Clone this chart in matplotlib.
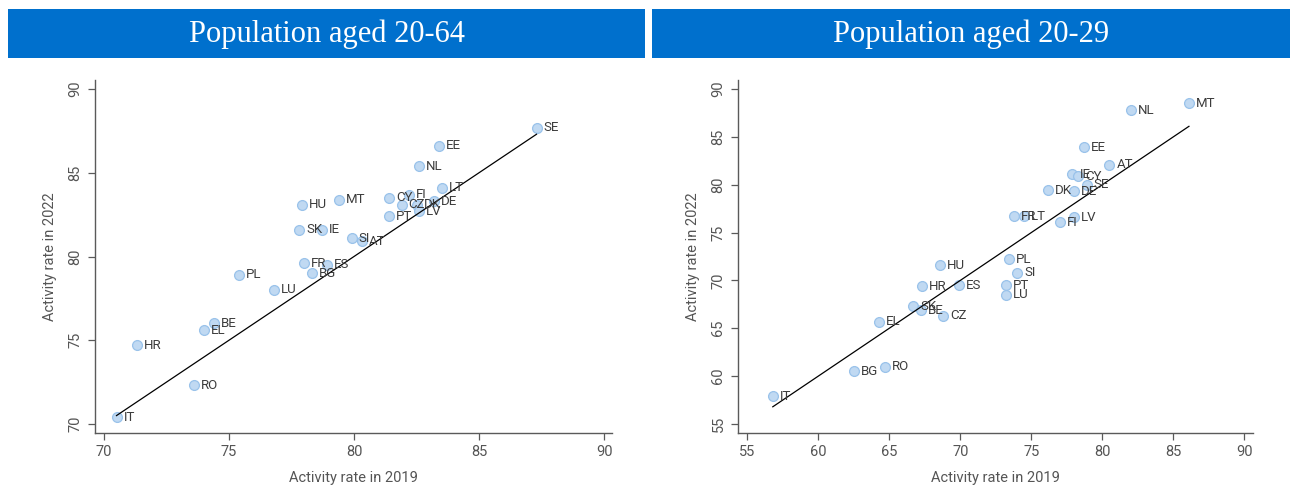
import matplotlib
matplotlib.use('Agg')
import matplotlib.pyplot as plt
from matplotlib.patches import Rectangle
import numpy as np

# activity rates, population aged 20-64
countries_2064 = ['IT', 'HR', 'RO', 'EL', 'BE', 'PL', 'LU', 'FR', 'BG', 'ES', 'HU', 'SK', 'IE', 'MT',
                  'SI', 'AT', 'CY', 'PT', 'FI', 'DK', 'CZ', 'LV', 'DE', 'LT', 'NL', 'EE', 'SE']
rate2019_2064 = [70.5, 71.3, 73.6, 74.0, 74.4, 75.4, 76.8, 78.0, 78.3, 78.9, 77.9, 77.8, 78.7, 79.4,
                 79.9, 80.3, 81.4, 81.4, 82.2, 82.5, 81.9, 82.6, 83.2, 83.5, 82.6, 83.4, 87.3]
rate2022_2064 = [70.4, 74.7, 72.3, 75.6, 76.0, 78.9, 78.0, 79.6, 79.0, 79.5, 83.1, 81.6, 81.6, 83.4,
                 81.1, 80.9, 83.5, 82.4, 83.7, 83.1, 83.1, 82.7, 83.3, 84.1, 85.4, 86.6, 87.7]

# activity rates, population aged 20-29
countries_2029 = ['IT', 'BG', 'RO', 'EL', 'SK', 'BE', 'CZ', 'HR', 'HU', 'ES', 'PL', 'SI', 'PT', 'LU',
                  'FR', 'LT', 'FI', 'LV', 'DK', 'DE', 'IE', 'CY', 'SE', 'AT', 'EE', 'NL', 'MT']
rate2019_2029 = [56.8, 62.5, 64.7, 64.3, 66.7, 67.2, 68.8, 67.3, 68.6, 69.9, 73.4, 74.0, 73.2, 73.2,
                 73.8, 74.5, 77.0, 78.0, 76.2, 78.0, 77.9, 78.3, 78.9, 80.5, 78.7, 82.0, 86.1]
rate2022_2029 = [57.9, 60.5, 61.0, 65.7, 67.3, 66.9, 66.3, 69.4, 71.6, 69.5, 72.2, 70.8, 69.5, 68.5,
                 76.7, 76.7, 76.1, 76.6, 79.4, 79.3, 81.1, 80.9, 80.0, 82.1, 83.9, 87.8, 88.5]

titles = ['Population aged 20-64', 'Population aged 20-29']
xticks = [[70, 75, 80, 85, 90], [55, 60, 65, 70, 75, 80, 85, 90]]
yticks = [[70, 75, 80, 85, 90], [55, 60, 65, 70, 75, 80, 85, 90]]

BLUE = '#0070cd'
AXIS_GREY = '#5a5a5a'
TEXT_GREY = '#555555'
LABEL_COLOR = '#3c3c3c'
DOT_FACE = '#c0d9f2'
DOT_EDGE = '#99c2ea'
TICK_FONT = ['Liberation Sans Narrow', 'Roboto', 'DejaVu Sans']


def draw_panel(ax, names, x, y, xt, yt, xlim, ylim):
    x = np.asarray(x)
    y = np.asarray(y)
    ax.scatter(x, y, s=50, facecolor=DOT_FACE, edgecolor=DOT_EDGE, linewidth=0.9, zorder=2)
    # 45-degree line (no change between 2019 and 2022) over the observed range
    xs = np.array([x.min(), x.max()])
    ax.plot(xs, xs, color='black', linewidth=0.9, zorder=3)
    for n, xi, yi in zip(names, x, y):
        ax.annotate(n, (xi, yi), xytext=(5, 0), textcoords='offset points', va='center', ha='left',
                    fontsize=9.5, color=LABEL_COLOR, family='Roboto', zorder=4)

    ax.set_xlim(*xlim)
    ax.set_ylim(*ylim)
    ax.set_xticks(xt)
    ax.set_yticks(yt)
    ax.set_xticklabels([str(v) for v in xt], family=TICK_FONT, fontsize=10.5, color=TEXT_GREY)
    ax.set_yticklabels([str(v) for v in yt], family=TICK_FONT, fontsize=10.5, color=TEXT_GREY,
                       rotation=90, va='center')
    ax.tick_params(direction='out', length=5, width=0.9, color=AXIS_GREY, pad=4)
    for side in ['top', 'right']:
        ax.spines[side].set_visible(False)
    for side in ['left', 'bottom']:
        ax.spines[side].set_color(AXIS_GREY)
        ax.spines[side].set_linewidth(1.0)
    ax.set_xlabel('Activity rate in 2019', family=TICK_FONT, fontsize=10.5, color=TEXT_GREY, labelpad=8)
    ax.set_ylabel('Activity rate in 2022', family=TICK_FONT, fontsize=10.5, color=TEXT_GREY, labelpad=8)
    ax.set_facecolor('white')


fig = plt.figure(figsize=(12.9, 4.87), dpi=100)
fig.patch.set_facecolor('white')

ax_l = fig.add_axes([95 / 1290, 54 / 487, 517 / 1290, 353 / 487])
ax_r = fig.add_axes([738 / 1290, 54 / 487, 515 / 1290, 353 / 487])

draw_panel(ax_l, countries_2064, rate2019_2064, rate2022_2064, xticks[0], yticks[0],
           (69.64, 90.32), (69.46, 90.54))
draw_panel(ax_r, countries_2029, rate2019_2029, rate2022_2029, xticks[1], yticks[1],
           (54.35, 90.61), (54.06, 90.94))

# blue title bars
bars = [(8, 645), (652, 1290)]
for (x0, x1), t in zip(bars, titles):
    fig.patches.append(Rectangle((x0 / 1290, 1 - 58 / 487), (x1 - x0) / 1290, 49 / 487,
                                 transform=fig.transFigure, facecolor=BLUE, edgecolor='none'))
    fig.text((x0 + x1) / 2 / 1290, 1 - 34 / 487, t, ha='center', va='center', color='white',
             fontsize=22, family='Liberation Serif')

fig.savefig('out.png', dpi=100, facecolor='white')
